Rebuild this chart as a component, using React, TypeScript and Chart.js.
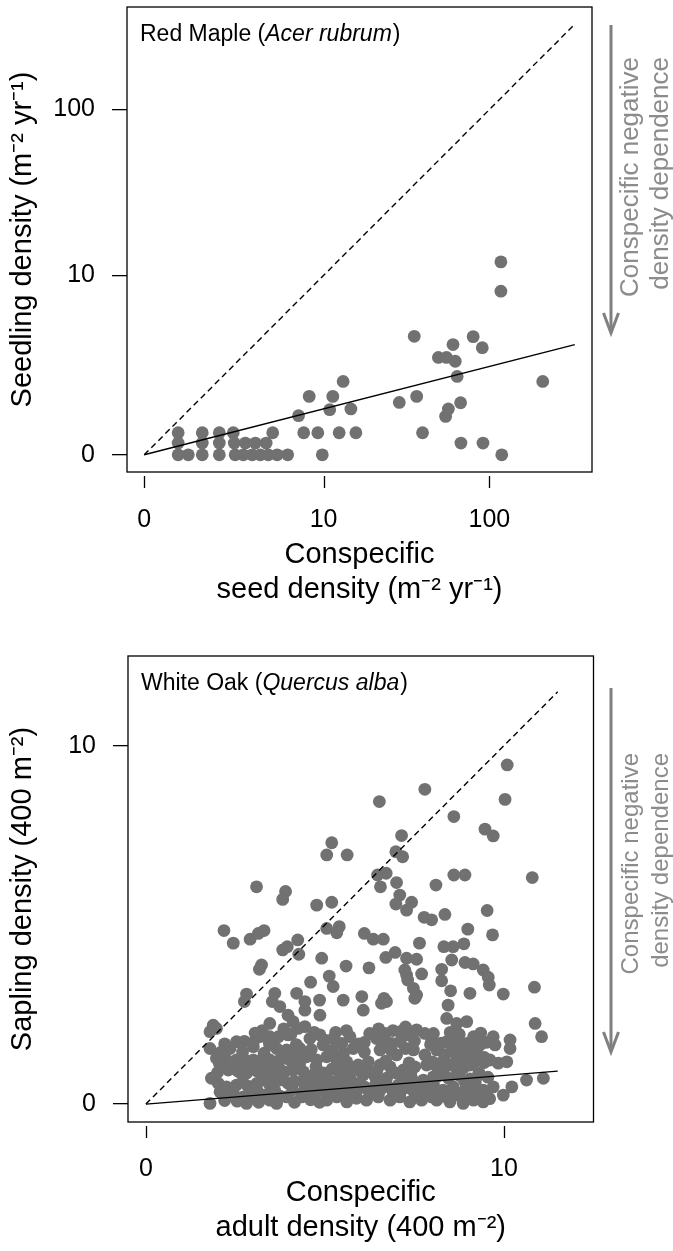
import React, { useEffect, useRef } from 'react';
import { Chart, registerables } from 'chart.js';

Chart.register(...registerables);

const FONT = "'Liberation Sans', Arial, Helvetica, sans-serif";
const DOT = '#717171';
const NOTE = '#8c8c8c';

// ---------- Red Maple (values read on the plotted log10(density + 1) axes) ----------
const mapleSeedLog = [
  0.197, 0.337, 0.436, 0.517, 0.746,
  0.197, 0.337, 0.436, 0.523, 0.587, 0.645, 0.708,
  0.197, 0.256, 0.337, 0.436, 0.528, 0.575, 0.627, 0.674, 0.72, 0.772, 0.833, 1.034,
  0.896, 0.926, 0.958, 1.008, 1.077, 1.095, 1.132, 1.155, 1.2, 1.229,
  1.481, 1.568, 1.582, 1.616, 1.708, 1.755, 1.793, 1.806, 1.817, 1.766,
  1.75, 1.837, 1.839, 1.91, 1.963, 1.967, 2.076, 2.314, 2.071, 2.071,
];
const mapleSeedlingLog = [
  0.128, 0.128, 0.128, 0.128, 0.128,
  0.068, 0.068, 0.068, 0.068, 0.068, 0.068, 0.068,
  0, 0, 0, 0, 0, 0, 0, 0, 0, 0, 0, 0,
  0.227, 0.128, 0.339, 0.128, 0.262, 0.339, 0.128, 0.426, 0.266, 0.128,
  0.304, 0.688, 0.339, 0.128, 0.565, 0.565, 0.64, 0.543, 0.455, 0.266,
  0.223, 0.302, 0.068, 0.686, 0.622, 0.068, 0, 0.426, 1.12, 0.95,
];
const mapleTickLabels = [0, 10, 100];
const mapleLineX = [0, 2.5];
const mapleOneToOne = [0, 2.5];
const mapleFit = [0, 0.64];

// ---------- White Oak ----------
const oakAdult = [
  6.52, 5.19, 5.05, 5.62, 6.47, 6.71, 6.55, 3.09, 3.9, 3.82, 4.77, 5.19, 2.18, 2.44, 2.91, 3.14, 3.3, 4.24, 3.82, 3.95,
  4.27, 5.05, 5.4, 5.33, 6.1, 6.35, 6.63, 4.91, 5.59, 6.23, 6.7, 3.17, 3.23, 4.6, 5.12, 5.23, 3.6, 4.21, 2.81, 6.03,
  6.65, 10.09, 7.79, 10.03, 8.6, 9.47, 9.7, 7.14, 6.98, 7.17, 7.0, 8.1, 8.6, 8.91, 10.79, 7.09, 6.98, 7.42, 7.28, 7.77,
  7.98, 8.35, 9.53, 8.99, 9.68, 7.64, 8.32, 8.58, 8.88, 6.96, 7.28, 7.56, 7.23, 7.28, 7.7, 8.54, 8.91, 9.14, 9.42, 9.56,
  9.59, 8.26, 8.26, 8.51, 9.05, 9.98, 10.85, 7.47, 7.56, 7.31, 2.75, 3.53, 4.85, 5.51, 6.07, 3.74, 3.97, 4.11, 4.44, 3.46,
  4.25, 1.88, 1.97, 1.79, 2.53, 2.35, 1.79, 1.97, 2.25, 3.0, 3.18, 3.46, 3.7, 3.97, 3.46, 3.65, 3.93, 4.3, 2.53, 2.77,
  3.0, 3.23, 3.46, 3.74, 4.02, 2.3, 2.53, 2.81, 3.37, 3.56, 3.88, 4.11, 1.83, 2.02, 2.25, 2.53, 3.28, 3.46, 3.74, 3.97,
  4.39, 2.07, 2.44, 2.72, 2.95, 1.79, 3.46, 3.65, 3.93, 4.35, 2.81, 6.58, 6.72, 7.51, 4.44, 4.86, 4.44, 4.58, 4.86, 4.95,
  5.23, 5.47, 5.7, 5.79, 6.44, 6.68, 6.86, 7.28, 7.56, 7.79, 7.98, 6.54, 7.0, 7.47, 7.79, 4.49, 4.77, 5.05, 5.33, 5.61,
  5.93, 6.21, 6.54, 6.82, 7.19, 7.51, 7.84, 4.67, 5.05, 5.42, 5.7, 6.07, 6.4, 6.72, 7.0, 7.42, 7.75, 8.03, 4.44, 4.72,
  5.05, 5.33, 5.61, 5.88, 6.16, 6.49, 6.82, 7.09, 7.37, 7.7, 7.98, 8.44, 8.4, 8.68, 8.96, 10.87, 11.05, 8.03, 8.4, 8.68,
  8.96, 9.15, 9.33, 9.7, 9.75, 10.17, 10.17, 9.61, 9.84, 10.08, 8.12, 8.35, 8.68, 8.96, 9.24, 8.12, 8.49, 8.86, 9.05, 8.03,
  8.3, 8.58, 8.86, 9.15, 9.42, 9.7, 8.12, 8.49, 8.86, 9.15, 9.42, 9.98, 10.22, 10.63, 11.1,
  4.62, 4.92, 5.2, 5.5, 5.82, 6.12, 6.42, 6.75, 7.05, 7.32, 7.62, 7.9, 4.62, 5.2, 5.52, 6.1, 6.85, 7.25,
  5.0, 5.3, 5.6, 5.9, 6.25, 6.55, 6.9, 7.18, 7.48, 7.8, 6.1, 7.1, 7.5, 5.0, 5.3, 5.6, 6.5, 6.9, 7.25,
  4.75, 5.2, 5.75, 6.2, 2.12, 2.65, 2.98, 3.22, 3.7, 4.3, 3.1, 3.6, 4.1, 2.85, 2.1, 2.7, 3.3, 3.8, 4.2,
  2.2, 2.55, 3.15, 3.3, 4.15, 4.6, 4.85, 2.75, 3.25, 3.85, 8.15, 8.45, 8.75, 9.05, 9.3, 9.55, 8.3, 8.8, 9.2,
  8.3, 8.7, 9.0, 9.3, 9.6, 8.25, 8.55, 8.85, 9.1, 8.5, 9.45,
  2.35, 3.0, 3.75, 4.45, 5.15, 5.75, 6.35, 7.0, 7.6, 8.15, 8.55, 9.5,
  2.7, 3.1, 3.55, 4.15, 4.8, 5.3, 5.95, 6.6, 7.2, 7.85, 8.9, 9.2,
  2.0, 2.6, 3.1, 4.4, 4.95, 5.5, 6.0, 6.45, 7.4, 8.3, 8.7, 9.3,
  2.05, 2.4, 3.5, 4.3, 5.45, 6.7, 7.35, 8.0, 8.6, 9.45,
  2.2, 3.0, 3.45, 4.2, 5.35, 5.95, 6.65, 7.95, 9.5,
  3.05, 4.05, 4.7, 6.25, 7.1, 8.75, 9.35,
];
const oakSapling = [
  8.44, 7.29, 6.95, 6.95, 6.39, 6.44, 6.06, 6.06, 5.93, 5.71, 5.55, 5.63, 4.84, 4.49, 4.6, 4.76, 4.84, 4.58, 4.3, 4.39,
  4.18, 4.9, 4.95, 4.78, 4.76, 4.6, 4.6, 4.07, 3.85, 3.8, 4.09, 3.76, 3.88, 3.4, 3.57, 3.28, 3.09, 3.09, 3.07, 3.0,
  2.95, 9.46, 8.78, 8.5, 8.02, 7.67, 7.48, 7.49, 7.04, 6.9, 6.18, 6.11, 6.39, 6.39, 6.32, 5.83, 5.58, 5.63, 5.41, 5.21,
  5.14, 5.29, 5.4, 4.88, 4.72, 4.49, 4.39, 4.39, 4.47, 4.23, 4.07, 4.04, 3.74, 3.6, 3.63, 4.02, 3.95, 3.91, 3.74, 3.54,
  3.32, 3.76, 3.44, 3.16, 3.09, 3.07, 3.26, 3.23, 3.04, 3.46, 2.86, 2.86, 2.9, 2.9, 2.62, 2.72, 2.48, 2.3, 2.86, 2.25,
  2.11, 2.2, 2.11, 2.02, 1.74, 1.55, 1.55, 1.28, 1.23, 1.6, 1.88, 1.88, 1.88, 1.93, 1.65, 1.55, 1.51, 1.55, 1.23, 1.23,
  1.23, 1.23, 1.23, 1.23, 1.23, 0.95, 0.95, 0.86, 0.95, 0.81, 0.9, 0.95, 0.72, 0.58, 0.48, 0.53, 0.67, 0.53, 0.67, 0.58,
  0.62, 0.34, 0.3, 0.2, 0.16, 0.02, 0.11, 0.02, 0.2, 0.2, 0.02, 2.81, 2.86, 2.95, 2.62, 2.48, 2.16, 1.83, 1.93, 1.65,
  1.83, 1.69, 1.88, 1.55, 1.83, 1.97, 1.69, 1.93, 2.07, 1.97, 1.79, 1.51, 1.37, 1.51, 1.37, 1.32, 1.23, 1.32, 1.23, 1.18,
  1.09, 1.18, 1.09, 1.04, 0.95, 1.04, 1.09, 0.81, 0.76, 0.76, 0.72, 0.81, 0.76, 0.72, 0.86, 0.72, 0.67, 0.76, 0.39, 0.3,
  0.11, 0.2, 0.06, 0.16, 0.11, 0.2, 0.11, 0.2, 0.06, 0.11, 0.2, 2.76, 2.39, 2.25, 2.3, 2.25, 1.88, 1.97, 1.74, 1.79,
  1.69, 1.88, 1.65, 1.88, 1.65, 1.79, 1.55, 1.23, 1.14, 1.18, 1.51, 1.37, 1.32, 1.37, 1.41, 1.04, 1.09, 1.0, 1.09, 0.53,
  0.39, 0.48, 0.34, 0.48, 0.39, 0.48, 0.11, 0.06, 0.02, 0.11, 0.06, 0.25, 0.48, 0.67, 0.72,
  0.52, 0.48, 0.55, 0.5, 0.53, 0.47, 0.55, 0.5, 0.53, 0.47, 0.52, 0.45, 1.52, 1.5, 1.42, 1.45, 1.5, 1.55,
  0.35, 0.42, 0.33, 0.38, 0.3, 0.4, 0.33, 0.42, 0.35, 0.38, 1.72, 1.74, 1.76, 1.78, 2.0, 2.05, 2.1, 2.05, 2.15,
  1.05, 0.98, 0.95, 0.9, 1.05, 1.1, 1.02, 1.08, 1.05, 1.0, 0.4, 0.38, 0.4, 0.5, 1.45, 1.45, 1.42, 1.38, 1.4,
  0.1, 0.08, 0.05, 0.25, 0.05, 0.12, 0.05, 1.75, 2.05, 2.1, 0.78, 0.72, 0.8, 0.7, 0.82, 0.75, 1.2, 1.18, 1.2,
  0.22, 0.25, 0.28, 0.2, 0.15, 1.7, 1.55, 1.5, 1.6, 2.0, 1.3,
  0.24, 0.28, 0.22, 0.27, 0.25, 0.23, 0.28, 0.22, 0.26, 0.3, 0.24, 0.27,
  0.62, 0.58, 0.6, 0.64, 0.6, 0.63, 0.58, 0.61, 0.62, 0.59, 0.63, 0.6,
  0.88, 0.9, 0.92, 0.9, 0.87, 0.92, 0.9, 0.93, 0.88, 0.92, 0.9, 0.88,
  1.14, 1.12, 1.1, 1.17, 1.13, 1.2, 1.15, 1.18, 1.1, 1.16,
  1.68, 1.72, 1.7, 1.66, 1.7, 1.68, 1.74, 1.66, 1.72,
  1.98, 1.95, 2.0, 1.97, 2.02, 1.95, 1.98,
];
const oakTickLabels = [0, 10];
const oakLineX = [0, 11.5];
const oakOneToOne = [0, 11.5];
const oakFit = [0, 0.92];

type Panel = {
  height: number;
  area: { left: number; top: number; right: number; bottom: number };
  xs: number[];
  ys: number[];
  lineX: number[];
  oneToOne: number[];
  fit: number[];
  min: number;
  max: number;
  tickValues: number[];
  tickLabels: number[];
  yTitle: string;
  xTitle: string[];
  labelPlain: string;
  labelItalic: string;
  arrowTop: number;
  arrowBottom: number;
  noteTop: number;
  noteSize: number;
  xTickPad: number;
  xTitlePad: number;
};

const panels: Panel[] = [
  {
    height: 625,
    area: { left: 127, top: 7, right: 592, bottom: 472 },
    xs: mapleSeedLog,
    ys: mapleSeedlingLog,
    lineX: mapleLineX,
    oneToOne: mapleOneToOne,
    fit: mapleFit,
    min: -0.1,
    max: 2.6,
    tickValues: mapleTickLabels.map((v) => Math.log10(v + 1)),
    tickLabels: mapleTickLabels,
    yTitle: 'Seedling density (m\u207B\u00B2 yr\u207B\u00B9)',
    xTitle: ['Conspecific', 'seed density (m\u207B\u00B2 yr\u207B\u00B9)'],
    labelPlain: 'Red Maple',
    labelItalic: 'Acer rubrum',
    arrowTop: 25,
    arrowBottom: 333,
    noteTop: 57,
    noteSize: 26,
    xTickPad: 33,
    xTitlePad: 18,
  },
  {
    height: 626,
    area: { left: 128, top: 31, right: 593.5, bottom: 497 },
    xs: oakAdult,
    ys: oakSapling,
    lineX: oakLineX,
    oneToOne: oakOneToOne,
    fit: oakFit,
    min: -0.5,
    max: 12.5,
    tickValues: oakTickLabels,
    tickLabels: oakTickLabels,
    yTitle: 'Sapling density (400 m\u207B\u00B2)',
    xTitle: ['Conspecific', 'adult density (400 m\u207B\u00B2)'],
    labelPlain: 'White Oak',
    labelItalic: 'Quercus alba',
    arrowTop: 63,
    arrowBottom: 427,
    noteTop: 128,
    noteSize: 24,
    xTickPad: 32,
    xTitlePad: 6,
  },
];

function decor(p: Panel) {
  return {
    id: 'decor',
    afterDraw(chart: any) {
      const { ctx, chartArea: a, scales } = chart;
      ctx.save();
      // frame
      ctx.strokeStyle = '#000';
      ctx.lineWidth = 1.3;
      ctx.strokeRect(a.left, a.top, a.right - a.left, a.bottom - a.top);
      // x tick marks (detached from the box)
      ctx.beginPath();
      p.tickValues.forEach((v) => {
        const px = Math.round(scales.x.getPixelForValue(v)) + 0.5;
        ctx.moveTo(px, a.bottom + 4);
        ctx.lineTo(px, a.bottom + 16);
      });
      ctx.stroke();
      // panel label
      const size = 23;
      const lx = a.left + 13;
      const ly = a.top + 34;
      ctx.fillStyle = '#000';
      ctx.textBaseline = 'alphabetic';
      ctx.textAlign = 'left';
      ctx.font = `${size}px ${FONT}`;
      const part1 = p.labelPlain + ' (';
      ctx.fillText(part1, lx, ly);
      let x = lx + ctx.measureText(part1).width;
      ctx.font = `italic ${size}px ${FONT}`;
      ctx.fillText(p.labelItalic, x, ly);
      x += ctx.measureText(p.labelItalic).width;
      ctx.font = `${size}px ${FONT}`;
      ctx.fillText(')', x + 1, ly);
      // arrow
      const ax = 611;
      ctx.strokeStyle = '#808080';
      ctx.lineWidth = 3;
      ctx.beginPath();
      ctx.moveTo(ax, p.arrowTop);
      ctx.lineTo(ax, p.arrowBottom - 1);
      ctx.stroke();
      ctx.beginPath();
      ctx.moveTo(ax - 7.5, p.arrowBottom - 20);
      ctx.lineTo(ax, p.arrowBottom);
      ctx.lineTo(ax + 7.5, p.arrowBottom - 20);
      ctx.stroke();
      // note text
      ctx.fillStyle = NOTE;
      ctx.font = `${p.noteSize}px ${FONT}`;
      ctx.textAlign = 'right';
      ctx.textBaseline = 'middle';
      const lines = ['Conspecific negative', 'density dependence'];
      lines.forEach((t, i) => {
        ctx.save();
        ctx.translate(631 + i * 30, p.noteTop);
        ctx.rotate(-Math.PI / 2);
        ctx.fillText(t, 0, 0);
        ctx.restore();
      });
      ctx.restore();
    },
  };
}

function buildConfig(p: Panel): any {
  const pts = p.xs.map((x, i) => ({ x, y: p.ys[i] }));
  const zeroPad = (s: any) => {
    s.paddingLeft = 0;
    s.paddingRight = 0;
    s.paddingTop = 0;
    s.paddingBottom = 0;
  };
  return {
    type: 'scatter',
    data: {
      datasets: [
        {
          data: p.lineX.map((x, i) => ({ x, y: p.oneToOne[i] })),
          showLine: true,
          borderColor: '#000',
          borderWidth: 1.4,
          borderDash: [6, 4],
          pointRadius: 0,
          order: 0,
        },
        {
          data: p.lineX.map((x, i) => ({ x, y: p.fit[i] })),
          showLine: true,
          borderColor: '#000',
          borderWidth: 1.4,
          pointRadius: 0,
          order: 0,
        },
        {
          data: pts,
          pointRadius: 6.4,
          pointHoverRadius: 6.4,
          pointBackgroundColor: DOT,
          backgroundColor: DOT,
          pointBorderWidth: 0,
          borderWidth: 0,
          order: 1,
        },
      ],
    },
    options: {
      animation: false,
      responsive: false,
      devicePixelRatio: 1,
      events: [],
      layout: { padding: { left: 0, top: p.area.top, right: 673 - p.area.right, bottom: 0 } },
      plugins: { legend: { display: false }, tooltip: { enabled: false } },
      scales: {
        x: {
          type: 'linear',
          min: p.min,
          max: p.max,
          afterBuildTicks: (s: any) => {
            s.ticks = p.tickValues.map((value) => ({ value }));
          },
          afterFit: (s: any) => {
            s.height = p.height - p.area.bottom;
            zeroPad(s);
          },
          grid: { display: false, drawTicks: false },
          border: { display: false },
          ticks: {
            autoSkip: false,
            maxRotation: 0,
            padding: p.xTickPad,
            color: '#000',
            font: { family: FONT, size: 25 },
            callback: (_v: any, i: number) => String(p.tickLabels[i]),
          },
          title: {
            display: true,
            text: p.xTitle,
            color: '#000',
            font: { family: FONT, size: 29, lineHeight: 1.2 },
            padding: { top: 0, bottom: p.xTitlePad },
          },
        },
        y: {
          type: 'linear',
          min: p.min,
          max: p.max,
          afterBuildTicks: (s: any) => {
            s.ticks = p.tickValues.map((value) => ({ value }));
          },
          afterFit: (s: any) => {
            s.width = p.area.left;
            zeroPad(s);
          },
          grid: {
            display: true,
            drawOnChartArea: false,
            drawTicks: true,
            tickLength: 15,
            color: '#000',
            lineWidth: 1.3,
          },
          border: { display: false },
          ticks: {
            autoSkip: false,
            padding: 17,
            color: '#000',
            font: { family: FONT, size: 25 },
            callback: (_v: any, i: number) => String(p.tickLabels[i]),
          },
          title: {
            display: true,
            text: p.yTitle,
            color: '#000',
            font: { family: FONT, size: 29, lineHeight: 1.2 },
            padding: { top: 6, bottom: 0 },
          },
        },
      },
    },
    plugins: [decor(p)],
  };
}

function PanelChart({ p }: { p: Panel }) {
  const ref = useRef<HTMLCanvasElement>(null);
  useEffect(() => {
    const chart = new Chart(ref.current as HTMLCanvasElement, buildConfig(p));
    return () => chart.destroy();
  }, [p]);
  return (
    <canvas
      ref={ref}
      width={673}
      height={p.height}
      style={{ display: 'block', width: 673, height: p.height }}
    />
  );
}

export default function App() {
  return (
    <div style={{ position: 'absolute', left: 0, top: 0, width: 673, height: 1251, background: '#fff' }}>
      {panels.map((p, i) => (
        <PanelChart key={i} p={p} />
      ))}
    </div>
  );
}
